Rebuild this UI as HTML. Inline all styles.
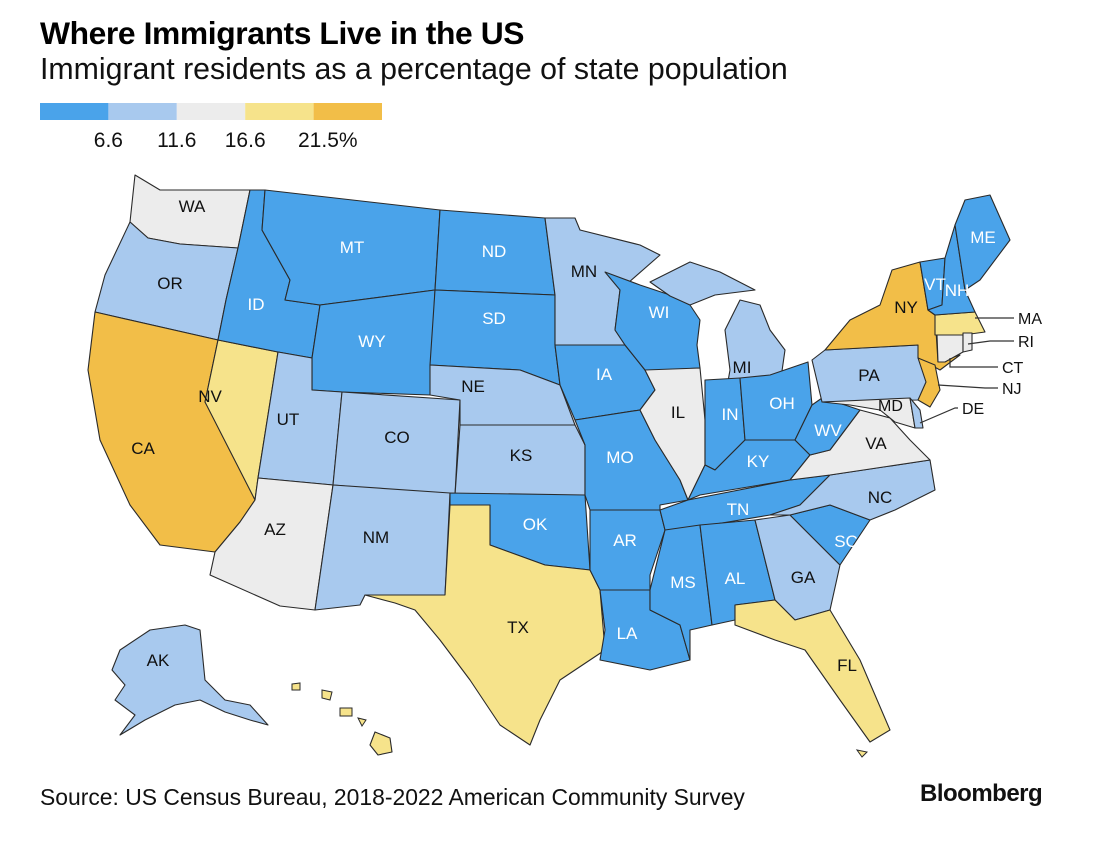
<!DOCTYPE html>
<html><head><meta charset="utf-8"><style>
body{margin:0;background:#fff;width:1112px;height:842px;overflow:hidden;font-family:"Liberation Sans",sans-serif;}
.t{position:absolute;left:40px;top:15px;font-size:31.8px;font-weight:bold;color:#000;letter-spacing:-0.4px}
.s{position:absolute;left:40px;top:53px;font-size:30.3px;color:#111}
.src{position:absolute;left:40px;top:784px;font-size:22.9px;color:#111}
.bb{position:absolute;left:920px;top:780px;font-size:24px;font-weight:bold;color:#111;letter-spacing:-0.5px}
svg{position:absolute;left:0;top:0}
</style></head><body>
<div class="t">Where Immigrants Live in the US</div>
<div class="s">Immigrant residents as a percentage of state population</div>
<svg id="m" width="1112" height="842"></svg>
<div class="src">Source: US Census Bureau, 2018-2022 American Community Survey</div>
<div class="bb">Bloomberg</div>
<script>
const states=["WA","OR","CA","NV","ID","MT","WY","UT","CO","AZ","NM","ND","SD","NE","KS","OK","TX","MN","IA","MO","AR","LA","WI","IL","MI","MI2","IN","OH","KY","TN","MS","AL","GA","FL","SC","NC","VA","WV","PA","NY","NJ","MD","DE","CT","MA","RI","VT","NH","ME","AK","HI"];
const values=[14.7,9.8,26.6,19.1,5.9,2.2,3.4,8.4,9.7,12.9,9.2,4.2,3.8,7.2,7.0,6.1,17.1,8.6,5.6,4.3,5.0,4.0,5.0,14.0,7.0,7.0,5.4,4.9,3.9,5.4,2.3,3.6,10.2,21.1,5.2,8.3,12.6,1.6,7.1,22.6,23.1,15.6,9.8,15.2,17.5,14.0,4.6,6.0,3.8,7.6,18.0];
const breaks=[6.6,11.6,16.6,21.5];
const tickLabels=["6.6","11.6","16.6","21.5%"];
const colors=["#4aa3ea","#a8c9ee","#ececec","#f6e38b","#f2be48"];
function colorFor(v){let i=0;while(i<breaks.length&&v>=breaks[i])i++;return colors[i];}
const geo={
WA:[[135,175],[160,190],[250,190],[238,248],[180,244],[148,238],[130,222]],
OR:[[130,222],[148,238],[180,244],[238,248],[226,300],[218,340],[95,312],[105,275]],
CA:[[95,312],[218,340],[205,402],[258,480],[255,500],[240,522],[215,552],[160,545],[130,505],[100,440],[88,370]],
NV:[[218,340],[278,352],[258,478],[255,500],[205,402]],
ID:[[250,190],[265,190],[262,230],[290,280],[285,300],[320,305],[312,358],[278,352],[218,340],[226,300],[238,248]],
MT:[[265,190],[440,210],[435,290],[320,305],[285,300],[290,280],[262,230]],
WY:[[320,305],[435,290],[430,395],[342,392],[312,390],[312,358]],
UT:[[278,352],[312,358],[312,390],[342,392],[333,485],[258,478]],
CO:[[342,392],[460,400],[455,495],[333,485]],
AZ:[[258,478],[333,485],[315,610],[280,606],[210,575],[215,552],[240,522],[255,500]],
NM:[[333,485],[450,493],[445,595],[365,595],[360,605],[315,610]],
ND:[[440,210],[545,218],[555,295],[435,290]],
SD:[[435,290],[555,295],[555,345],[560,385],[520,370],[430,365]],
NE:[[430,365],[520,370],[560,385],[575,425],[460,425],[460,400],[430,395]],
KS:[[460,425],[575,425],[585,445],[585,495],[455,495]],
OK:[[450,493],[585,495],[590,570],[545,565],[490,545],[490,505],[450,505]],
TX:[[450,505],[490,505],[490,545],[545,565],[590,570],[600,590],[605,650],[560,680],[540,720],[530,745],[500,725],[470,680],[440,640],[415,610],[395,603],[365,595],[445,595]],
MN:[[545,218],[575,218],[580,230],[640,245],[660,255],[620,290],[615,330],[625,345],[555,345],[555,295]],
IA:[[555,345],[625,345],[645,370],[655,390],[640,410],[575,420],[560,385]],
MO:[[575,420],[640,410],[655,440],[680,480],[688,500],[660,505],[660,510],[590,510],[585,495],[585,445]],
AR:[[590,510],[660,510],[665,530],[650,575],[650,590],[600,590],[590,570]],
LA:[[600,590],[650,590],[650,610],[680,625],[690,660],[650,670],[600,660],[605,630]],
WI:[[605,272],[640,285],[670,295],[690,305],[700,320],[697,345],[700,368],[660,370],[645,370],[625,345],[615,330],[620,290]],
IL:[[645,370],[700,368],[705,420],[705,465],[688,500],[680,480],[655,440],[640,410],[655,390]],
MI:[[725,330],[740,300],[760,305],[770,330],[785,350],[780,385],[760,395],[725,398],[730,370]],
MI2:[[650,282],[690,262],[720,272],[755,290],[715,295],[690,305],[670,296]],
IN:[[705,380],[740,378],[745,440],[715,470],[705,465]],
OH:[[740,378],[770,375],[808,362],[812,405],[795,440],[745,440]],
KY:[[705,465],[715,470],[745,440],[795,440],[810,455],[790,480],[700,495],[688,500]],
TN:[[688,500],[790,480],[830,475],[800,505],[770,515],[680,530],[665,530],[660,510]],
MS:[[665,530],[700,525],[712,625],[690,630],[690,660],[680,625],[650,610],[650,590]],
AL:[[700,525],[755,520],[775,600],[735,605],[735,620],[712,625]],
GA:[[755,520],[790,515],[840,565],[830,610],[795,620],[775,600]],
FL:[[735,605],[775,600],[795,620],[830,610],[860,660],[890,730],[870,742],[840,700],[805,650],[775,640],[735,625]],
SC:[[790,515],[830,505],[870,520],[840,565]],
NC:[[770,515],[800,505],[830,475],[930,460],[935,490],[895,510],[870,520],[830,505],[790,515]],
VA:[[790,480],[810,455],[830,450],[860,410],[890,418],[910,440],[930,460],[830,475]],
WV:[[795,440],[812,405],[822,398],[845,405],[860,410],[830,450],[810,455]],
PA:[[812,360],[825,350],[918,345],[928,382],[918,400],[822,402]],
NY:[[825,350],[850,320],[880,305],[892,270],[920,262],[928,310],[935,315],[938,362],[960,355],[940,370],[918,358],[918,345]],
NJ:[[918,358],[935,365],[940,390],[930,407],[918,400],[926,382]],
MD:[[822,402],[910,398],[915,428],[895,422],[880,410],[850,405]],
DE:[[910,398],[920,410],[923,428],[915,428]],
CT:[[937,335],[963,335],[963,352],[945,362],[938,362]],
MA:[[935,315],[975,312],[985,332],[963,335],[935,335]],
RI:[[963,333],[972,333],[972,350],[963,352]],
VT:[[920,262],[945,258],[942,305],[928,310]],
NH:[[945,258],[955,225],[965,290],[975,312],[935,315],[928,310],[942,305]],
ME:[[955,225],[965,200],[990,195],[1010,240],[980,280],[965,290]],
AK:[[120,650],[150,630],[185,625],[200,630],[205,680],[225,700],[250,705],[268,725],[250,720],[225,712],[200,700],[175,705],[145,720],[120,735],[135,715],[115,700],[125,685],[112,670]],
HI:[[375,732],[390,738],[392,752],[378,755],[370,745]]
};
const hiIsles=[[[292,684],[300,683],[300,690],[292,690]],[[322,690],[332,692],[330,700],[322,698]],[[340,708],[352,708],[352,716],[340,716]],[[358,718],[366,720],[362,726]],[[857,750],[867,752],[862,757]]];
const labels={WA:[192,206],OR:[170,283],CA:[143,448],NV:[210,396],ID:[256,304],MT:[352,247],WY:[372,341],UT:[288,419],CO:[397,437],AZ:[275,529],NM:[376,537],ND:[494,251],SD:[494,318],NE:[473,386],KS:[521,455],OK:[535,524],TX:[518,627],MN:[584,271],IA:[604,374],MO:[620,457],AR:[625,540],LA:[627,633],WI:[659,312],IL:[678,412],MI:[742,367],IN:[730,414],OH:[782,403],KY:[758,461],TN:[738,509],MS:[683,582],AL:[735,578],GA:[803,577],FL:[847,665],SC:[846,541],NC:[880,497],VA:[876,443],WV:[828,430],PA:[869,375],NY:[906,307],VT:[935,284],NH:[957,290],ME:[983,237],AK:[158,660]};
const callouts={MA:[[975,318],[1000,318],[1018,318]],RI:[[968,344],[990,341],[1018,341]],CT:[[950,358],[950,367],[1002,367]],NJ:[[938,385],[985,388],[1002,388]],DE:[[920,423],[955,408],[962,408]],MD:[[0,0],[0,0],[878,405]]};
const svg=document.getElementById('m');const NS="http://www.w3.org/2000/svg";
const lx=40,lw=68.4;
colors.forEach((c,i)=>{const r=document.createElementNS(NS,'rect');r.setAttribute('x',lx+i*lw);r.setAttribute('y',103);r.setAttribute('width',lw);r.setAttribute('height',17);r.setAttribute('fill',c);


svg.appendChild(r);});
tickLabels.forEach((t,i)=>{const e=document.createElementNS(NS,'text');e.setAttribute('x',i==3?298:lx+(i+1)*lw);e.setAttribute('y',147);e.setAttribute('text-anchor',i==3?'start':'middle');e.setAttribute('font-size','21');e.setAttribute('fill','#111');e.textContent=t;


svg.appendChild(e);});
states.forEach((s,i)=>{const p=document.createElementNS(NS,'polygon');p.setAttribute('points',geo[s].map(q=>q.join(',')).join(' '));p.setAttribute('fill',colorFor(values[i]));p.setAttribute('stroke','#2a2a2a');p.setAttribute('stroke-width','1.1');p.setAttribute('stroke-linejoin','round');


svg.appendChild(p);});
const hiCol=colorFor(values[states.indexOf("HI")]);
hiIsles.forEach(h=>{const p=document.createElementNS(NS,'polygon');p.setAttribute('points',h.map(q=>q.join(',')).join(' '));p.setAttribute('fill',h[0][0]>800?colorFor(values[states.indexOf("FL")]):hiCol);p.setAttribute('stroke','#2a2a2a');p.setAttribute('stroke-width','1');


svg.appendChild(p);});
Object.keys(labels).forEach(s=>{const v=values[states.indexOf(s)];const e=document.createElementNS(NS,'text');e.setAttribute('x',labels[s][0]);e.setAttribute('y',labels[s][1]+6);e.setAttribute('text-anchor','middle');e.setAttribute('font-size','17');e.setAttribute('fill',v<breaks[0]?'#fff':'#111');e.textContent=s;


svg.appendChild(e);});
Object.keys(callouts).forEach(s=>{const c=callouts[s];if(s!=="MD"){const l=document.createElementNS(NS,'polyline');l.setAttribute('points',c.slice(0,2).concat([[c[2][0]-4,c[1][1]]]).map(q=>q.join(',')).join(' '));l.setAttribute('fill','none');l.setAttribute('stroke','#333');l.setAttribute('stroke-width','1.2');


svg.appendChild(l);}
const e=document.createElementNS(NS,'text');e.setAttribute('x',c[2][0]);e.setAttribute('y',c[2][1]+6);e.setAttribute('font-size','16');e.setAttribute('fill','#111');e.textContent=s;


svg.appendChild(e);});
</script>
</body></html>
